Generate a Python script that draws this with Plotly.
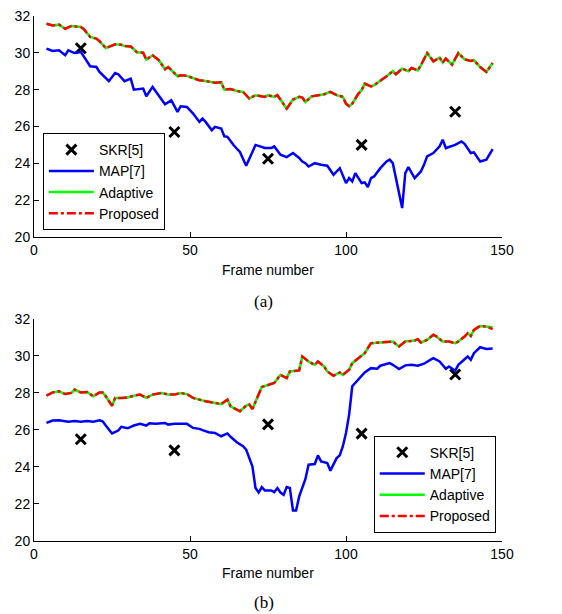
import plotly.graph_objects as go

# ---------------- data: panel (a) ----------------
skr_frames = [15, 45, 75, 105, 135]
skr_a = [30.25, 25.7, 24.25, 25.0, 26.8]

adapt_a_f = [4, 6, 8, 10, 12, 15, 16, 18, 20, 21, 23, 26, 28, 29, 31, 33, 35, 36, 38, 39, 40, 42, 43,
             46, 47, 49, 51, 53, 55, 58, 60, 61, 63, 65, 67, 69, 71, 74, 75, 77, 78, 81, 83, 85, 86,
             87, 89, 92, 93, 95, 97, 99, 100, 101, 102, 104, 105, 106, 108, 109, 112, 113, 115, 116,
             118, 120, 121, 123, 124, 126, 128, 130, 131, 132, 134, 136, 138, 140, 141, 143, 145, 147]
adapt_a = [31.58, 31.49, 31.53, 31.31, 31.46, 31.4, 31.28, 30.86, 30.77, 30.63, 30.26, 30.46, 30.44,
           30.37, 30.35, 30.03, 30.01, 29.63, 29.87, 29.74, 29.6, 29.11, 29.23, 28.73, 28.78, 28.75,
           28.64, 28.51, 28.47, 28.38, 28.4, 28.0, 28.04, 27.93, 27.88, 27.52, 27.7, 27.61, 27.7,
           27.61, 27.7, 26.97, 27.46, 27.61, 27.57, 27.33, 27.64, 27.73, 27.75, 27.88, 27.7, 27.61,
           27.24, 27.1, 27.24, 27.79, 27.97, 28.33, 28.18, 28.24, 28.58, 28.73, 29.0, 28.84, 29.14,
           29.0, 29.18, 29.05, 29.32, 29.99, 29.54, 29.74, 29.47, 29.69, 29.36, 29.99, 29.65, 29.56,
           29.6, 29.23, 28.96, 29.45]
prop_a_f = adapt_a_f
prop_a = adapt_a

map_a_f = [4, 6, 8, 10, 11, 13, 15, 16, 18, 20, 21, 24, 26, 27, 29, 31, 32, 35, 36, 38, 40, 42, 44,
           46, 47, 49, 51, 53, 54, 55, 57, 58, 60, 61, 62, 64, 66, 68, 71, 74, 76, 77, 79, 81, 83,
           85, 86, 87, 88, 90, 92, 94, 96, 98, 100, 101, 102, 103, 105, 106, 107, 108, 109, 111,
           113, 114, 115, 116, 118, 119, 120, 122, 124, 125, 126, 128, 129, 130, 131, 132, 135,
           137, 138, 140, 141, 143, 145, 147]
map_a = [30.23, 30.1, 30.14, 29.87, 30.14, 29.99, 30.05, 29.78, 29.27, 29.23, 28.96, 28.46, 28.9,
         28.84, 28.46, 28.6, 28.0, 28.06, 27.64, 28.15, 27.7, 27.21, 27.42, 26.79, 27.1, 27.06,
         26.7, 26.25, 26.43, 26.25, 25.8, 25.98, 25.89, 25.47, 25.44, 24.98, 24.62, 23.87, 25.0,
         24.83, 24.83, 24.92, 24.47, 24.34, 24.56, 24.29, 24.1, 24.01, 23.83, 24.01, 23.92, 23.87,
         23.38, 23.74, 22.93, 23.2, 23.02, 23.47, 22.93, 22.97, 22.71, 23.2, 23.29, 23.74, 24.1,
         24.2, 24.01, 23.2, 21.57, 23.47, 23.8, 23.2, 23.56, 23.92, 24.38, 24.56, 24.74, 24.92,
         25.28, 24.83, 25.0, 25.19, 25.06, 24.56, 24.6, 24.1, 24.2, 24.77]

# ---------------- data: panel (b) ----------------
skr_b = [25.5, 24.9, 26.3, 25.8, 29.0]

adapt_b_f = [4, 6, 8, 10, 12, 13, 15, 17, 19, 21, 22, 23, 25, 26, 28, 30, 32, 34, 36, 38, 41, 43,
             45, 47, 49, 51, 53, 55, 58, 60, 62, 63, 66, 68, 69, 70, 73, 75, 77, 79, 81, 82, 85,
             86, 88, 90, 91, 93, 94, 96, 98, 99, 101, 102, 104, 106, 108, 111, 113, 115, 117, 119,
             122, 123, 124, 126, 128, 129, 131, 133, 135, 136, 138, 139, 140, 141, 143, 145, 147]
adapt_b = [27.85, 28.03, 28.09, 27.94, 28.0, 28.18, 28.03, 28.05, 27.82, 28.03, 28.03, 27.82,
           27.31, 27.73, 27.73, 27.76, 27.85, 27.91, 27.73, 27.91, 28.0, 27.91, 27.91, 28.0, 27.94,
           27.73, 27.64, 27.55, 27.46, 27.4, 27.64, 27.28, 27.01, 27.31, 27.37, 27.13, 28.32,
           28.45, 28.54, 28.98, 28.8, 29.16, 29.22, 29.97, 29.7, 29.52, 29.7, 29.43, 29.16, 28.93,
           29.11, 28.98, 29.25, 29.61, 29.88, 30.15, 30.69, 30.73, 30.73, 30.78, 30.51, 30.78,
           30.83, 30.9, 30.73, 30.87, 31.14, 31.05, 30.78, 30.78, 30.69, 30.78, 31.05, 31.23,
           31.08, 31.41, 31.62, 31.59, 31.55]
prop_b_f = adapt_b_f
prop_b = adapt_b[:-1] + [31.45]

map_b_f = [4, 6, 8, 11, 13, 15, 17, 19, 21, 22, 23, 25, 27, 28, 30, 32, 34, 36, 37, 39, 42, 43,
           45, 47, 49, 51, 53, 54, 56, 58, 59, 60, 62, 63, 65, 67, 68, 70, 71, 72, 73, 74, 76, 77,
           78, 79, 80, 81, 82, 83, 84, 85, 87, 88, 90, 91, 92, 94, 95, 97, 98, 99, 100, 101, 102,
           104, 106, 108, 110, 111, 114, 115, 117, 119, 121, 123, 125, 127, 128, 130, 132, 133,
           135, 136, 138, 139, 140, 141, 143, 145, 147]
map_b = [26.38, 26.51, 26.52, 26.45, 26.49, 26.45, 26.49, 26.45, 26.52, 26.47, 26.24, 25.81,
         25.97, 26.17, 26.09, 26.24, 26.33, 26.24, 26.36, 26.34, 26.38, 26.29, 26.34, 26.34,
         26.33, 26.11, 26.06, 25.99, 25.88, 25.84, 25.75, 25.66, 25.81, 25.63, 25.34, 25.12,
         24.94, 24.03, 22.86, 22.62, 22.91, 22.73, 22.73, 22.64, 22.86, 22.62, 22.5, 22.91,
         22.86, 21.65, 21.65, 22.41, 23.35, 24.12, 24.16, 24.63, 24.3, 24.21, 23.8, 24.48, 24.63,
         25.12, 25.84, 26.83, 28.36, 28.71, 29.11, 29.34, 29.31, 29.47, 29.61, 29.52, 29.29,
         29.49, 29.52, 29.47, 29.58, 29.79, 29.88, 29.7, 29.31, 29.43, 29.2, 29.52, 29.79, 29.97,
         29.79, 30.15, 30.47, 30.38, 30.4]

x_ticks = [0, 50, 100, 150]
y_ticks = [20, 22, 24, 26, 28, 30, 32]

FONT = "Liberation Sans, Arial, Helvetica, sans-serif"
SERIF = "Liberation Serif, Times New Roman, serif"
DASHDOT = "9px,3px,3px,3px"

fig = go.Figure()

panels = [
    ("x", "y", "legend", skr_a, map_a_f, map_a, adapt_a_f, adapt_a, prop_a_f, prop_a),
    ("x2", "y2", "legend2", skr_b, map_b_f, map_b, adapt_b_f, adapt_b, prop_b_f, prop_b),
]
for xa, ya, lg, skr, mf, mv, af, av, pf, pv in panels:
    fig.add_trace(go.Scatter(x=skr_frames, y=skr, mode="markers", name="SKR[5]",
                             marker=dict(symbol="x-thin", size=10, color="black",
                                         line=dict(width=3, color="black")),
                             xaxis=xa, yaxis=ya, legend=lg))
    fig.add_trace(go.Scatter(x=mf, y=mv, mode="lines", name="MAP[7]",
                             line=dict(color="#0000ff", width=2.5),
                             xaxis=xa, yaxis=ya, legend=lg))
    fig.add_trace(go.Scatter(x=af, y=av, mode="lines", name="Adaptive",
                             line=dict(color="#00ff00", width=2.5),
                             xaxis=xa, yaxis=ya, legend=lg))
    fig.add_trace(go.Scatter(x=pf, y=pv, mode="lines", name="Proposed",
                             line=dict(color="#ff0000", width=2.5, dash=DASHDOT),
                             xaxis=xa, yaxis=ya, legend=lg))

axis_common = dict(showline=True, linecolor="black", linewidth=1, mirror=False,
                   ticks="inside", ticklen=5, tickcolor="black", tickwidth=1,
                   showgrid=False, zeroline=False, automargin=False,
                   ticklabeloverflow="allow",
                   tickfont=dict(family=FONT, size=14, color="black"))

# The page body adds an 8px offset, so the figure is 8px smaller and top/left margins shifted.
fig.update_layout(
    width=554, height=606,
    margin=dict(l=25.5, r=60, t=8, b=73, autoexpand=False),
    paper_bgcolor="white", plot_bgcolor="white",
    font=dict(family=FONT, size=13, color="black"),
    xaxis=dict(domain=[0, 1], anchor="y", range=[0, 150], tickvals=x_ticks, **axis_common),
    yaxis=dict(domain=[0.579, 1], anchor="x", range=[20, 32], tickvals=y_ticks, **axis_common),
    xaxis2=dict(domain=[0, 1], anchor="y2", range=[0, 150], tickvals=x_ticks, **axis_common),
    yaxis2=dict(domain=[0, 0.423], anchor="x2", range=[20, 32], tickvals=y_ticks, **axis_common),
    legend=dict(x=0.019, y=0.777, xanchor="left", yanchor="top", bgcolor="white",
                bordercolor="black", borderwidth=1, itemwidth=45,
                font=dict(family=FONT, size=14, color="black")),
    legend2=dict(x=0.726, y=0.2006, xanchor="left", yanchor="top", bgcolor="white",
                 bordercolor="black", borderwidth=1, itemwidth=45,
                 font=dict(family=FONT, size=14, color="black")),
    showlegend=True,
)

annots = [
    dict(text="Frame number", x=0.499, y=0.516, font=dict(family=FONT, size=14)),
    dict(text="(a)", x=0.491, y=0.4558, font=dict(family=SERIF, size=17)),
    dict(text="Frame number", x=0.499, y=-0.0604, font=dict(family=FONT, size=14)),
    dict(text="(b)", x=0.491, y=-0.118, font=dict(family=SERIF, size=17)),
]
for a in annots:
    fig.add_annotation(xref="paper", yref="paper", xanchor="center", yanchor="middle",
                       showarrow=False, **a)

fig.write_html("out.html")
